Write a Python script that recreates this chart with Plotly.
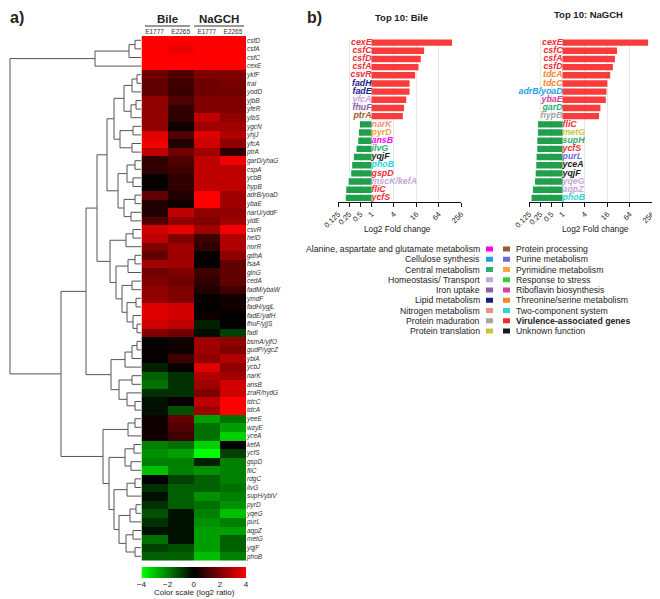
import plotly.graph_objects as go

# the page puts the figure 8 px in from the top-left corner
OFF = 8
W, H = 652, 591
FONT = "Arial, Liberation Sans, sans-serif"
INK = "#222222"

# ---- panel a: heatmap data (log2 ratio) ----
GENES = ["csfD", "csfA", "csfC", "cexE", "ykfF", "traI", "yodD", "yjbB", "yfeR", "ylbS",
         "ygcN", "yhjJ", "yfcA", "ptrA", "garD/yhaG", "cspA", "ycbB", "hypB", "adrB/yoaD", "ybaE",
         "narU/yddF", "yidE", "csvR", "helD", "norR", "gdhA", "fsaA", "glnG", "cedA", "fadM/ybaW",
         "ymdF", "fadH/ygjL", "fadE/yafH", "fhuF/yjjS", "fadI", "bsmA/yjfO", "gudP/ygcZ", "ybiA", "ycbJ", "narK",
         "ansB", "zraR/hydG", "tdcC", "tdcA", "yeeE", "wzyE", "yceA", "kefA", "ycfS", "gspD",
         "fliC", "rdgC", "ilvG", "supH/ybiV", "pyrD", "yqeG", "purL", "aqpZ", "metG", "yqjF", "phoB"]
SAMPLES = ["E1777", "E2265", "E1777", "E2265"]

BILE_E1777 = [4.0, 4.0, 4.0, 4.0,
              1.76, 1.5, 1.5, 2.26, 2.26, 2.26, 2.26, 3.5, 3.76, 3.0,
              0.75, 0.75, 0.1, 0.1, 1.5, 0.5, 0.5, 1.25,
              3.26, 3.0, 2.0, 1.5, 2.5, 1.76, 2.0, 2.26, 2.26, 3.5, 3.5, 3.26, 2.0,
              0.1, 0.1, 0.1, -0.5, -1.5, -1.76, -0.75, -0.25, -0.25,
              0.25, 0.25, 0.25, -2.0, -2.26, -2.0, -3.0, 0.0, -0.75, -0.25, -0.75, -1.25, -0.75,
              -0.25, -1.76, -1.0, -1.5]
BILE_E2265 = [4.0, 3.7, 4.0, 4.0,
              1.25, 1.0, 0.9, 1.25, 0.75, 0.75, 0.25, 1.25, 0.5, 1.76,
              1.25, 1.0, 0.75, 0.75, 0.5, 0.25, 3.0, 2.26,
              3.64, 2.0, 2.5, 2.5, 2.5, 2.0, 1.76, 2.0, 2.0, 3.3, 3.26, 3.0, 1.76,
              0.25, 0.25, 1.0, 0.1, -0.75, -0.75, -0.75, 0.1, -1.25,
              1.5, 1.25, 1.0, -1.76, -2.5, -2.0, -2.0, -1.0, -1.5, -1.5, -1.5, -0.25, -0.25,
              -0.25, -0.25, -1.25, -1.5]
NAGCH_E1777 = [4.0, 4.0, 4.0, 4.0,
               2.0, 1.76, 1.76, 2.0, 2.0, 3.0, 2.5, 3.5, 3.26, 2.5,
               3.0, 3.0, 3.0, 3.0, 4.0, 4.0, 2.26, 2.0,
               2.5, 1.0, 0.75, 0.1, 0.1, 1.0, 0.75, 0.5, 0.1, 0.0, 0.25, -0.5, -0.2,
               2.5, 2.5, 2.26, 3.5, 2.76, 2.5, 2.0, 3.0, 2.5,
               -2.5, -1.76, -1.76, -3.26, -4.0, -0.5, -2.26, -1.5, -1.5, -2.26, -1.76, -2.0, -2.26,
               -2.5, -2.5, -2.5, -3.0]
NAGCH_E2265 = [4.0, 4.0, 4.0, 4.0,
               2.0, 1.9, 1.8, 2.0, 2.0, 2.26, 2.5, 2.76, 2.26, 0.75,
               3.76, 3.0, 3.0, 3.0, 2.5, 2.5, 2.26, 2.5,
               3.76, 2.76, 2.76, 2.26, 1.5, 1.5, 1.5, 1.0, 0.25, 0.25, 0.0, 0.0, -1.0,
               2.26, 2.0, 2.76, 2.26, 2.5, 3.26, 3.26, 4.0, 4.0,
               -1.76, -2.5, -3.26, 0.0, -1.0, -2.0, -2.0, -2.0, -1.76, -2.0, -2.26, -3.0, -2.0,
               -2.5, -1.5, -1.5, -2.0]

# row clustering: [merge distance, left, right]; leaves are row indices
TREE = [131,
        [46, [12, [6, 0, 1], 2], 3],
        [80,
         [55,
          [44,
           [34,
            [27,
             [17, [9, [4, 4, 5], 6], [10, [5, 7, 8], 9]],
             [21, [8, 10, 11], [9, 12, 13]]],
            [23, [14, [6, 14, 15], [8, 16, 17]], [17, [6, 18, 19], [10, 20, 21]]]],
           [31,
            [15, [8, 22, 23], 24],
            [25, [13, [6, 25, 26], 27],
             [19, [9, 28, 29], [14, [5, 30, 31], [8, 32, [4, 33, 34]]]]]]],
          [30,
           [16, [9, [4, 35, 36], 37], 38],
           [22, [9, 39, 40], [14, 41, [6, 42, 43]]]]],
         [38,
          [13, [6, 44, 45], 46],
          [32,
           [16, [7, 47, 48], [10, 49, 50]],
           [27,
            [14, [6, 51, 52], 53],
            [22, [11, [5, 54, 55], 56], [15, [8, 57, 58], [6, 59, 60]]]]]]]]

SCALE_TICKS = [-4, -2, 0, 2, 4]

# ---- panel b: top-10 fold changes (log2) ----
BILE_GENES = ["cexE", "csfC", "csfD", "csfA", "csvR", "fadH", "fadE", "yfcA", "fhuF", "ptrA",
              "narK", "pyrD", "ansB", "ilvG", "yqjF", "phoB", "gspD", "mscK/kefA", "fliC", "ycfS"]
BILE_LOG2FC = [7.2, 4.7, 4.4, 4.2, 3.9, 3.4, 3.4, 3.1, 2.9, 2.8,
               -1.04, -1.13, -1.19, -1.34, -1.58, -1.73, -1.82, -2.05, -2.26, -2.3]
BILE_GROUP = ["Virulence-associated genes"] * 5 + [
    "Lipid metabolism", "Lipid metabolism", "Homeostasis/ Transport", "Iron uptake", "Protein processing",
    "Nitrogen metabolism", "Pyrimidine metabolism", "Alanine, aspartate and glutamate metabolism",
    "Central metabolism", "Unknown function", "Two-component system", "Virulence-associated genes",
    "Homeostasis/ Transport", "Virulence-associated genes", "Virulence-associated genes"]

NAGCH_GENES = ["cexE", "csfC", "csfA", "csfD", "tdcA", "tdcC", "adrB/yoaD", "ybaE", "garD", "hypB",
               "fliC", "metG", "supH", "ycfS", "purL", "yceA", "yqjF", "yqeG", "aqpZ", "phoB"]
NAGCH_LOG2FC = [7.65, 4.87, 4.68, 4.5, 4.26, 4.0, 3.93, 3.87, 3.39, 3.27,
                -2.2, -2.2, -2.26, -2.26, -2.32, -2.35, -2.4, -2.46, -2.65, -2.77]
NAGCH_GROUP = ["Virulence-associated genes"] * 4 + [
    "Threonine/serine metabolism", "Threonine/serine metabolism", "Cellulose synthesis",
    "Riboflavin biosynthesis", "Central metabolism", "Protein maduration",
    "Virulence-associated genes", "Protein translation", "Central metabolism", "Virulence-associated genes",
    "Purine metabolism", "Unknown function", "Unknown function", "Homeostasis/ Transport",
    "Homeostasis/ Transport", "Two-component system"]

FC_TICKS = [0.125, 0.25, 0.5, 1, 4, 16, 64, 256]
FC_TICK_LOG2 = [-3, -2, -1, 0, 2, 4, 6, 8]

LEFT_CATS = ["Alanine, aspartate and glutamate metabolism", "Cellulose synthesis", "Central metabolism",
             "Homeostasis/ Transport", "Iron uptake", "Lipid metabolism", "Nitrogen metabolism",
             "Protein maduration", "Protein translation"]
LEFT_COLORS = ["#FF00FF", "#1BA1E2", "#2EAD72", "#C3A6D8", "#8E5FA8", "#1B1B8A", "#F0907A",
               "#A5A5A5", "#C9C43F"]
RIGHT_CATS = ["Protein processing", "Purine metabolism", "Pyrimidine metabolism", "Response to stress",
              "Riboflavin biosynthesis", "Threonine/serine metabolism", "Two-component system",
              "Virulence-associated genes", "Unknown function"]
RIGHT_COLORS = ["#9A5B2E", "#6B6BD6", "#F7A23A", "#3CC83C", "#D4449B", "#F5862A", "#2ED3DA",
                "#EE2B36", "#1A1A1A"]
CAT_COLOR = dict(zip(LEFT_CATS + RIGHT_CATS, LEFT_COLORS + RIGHT_COLORS))

RED = "#F93B3B"
GREEN = "#20A04C"
RG_SCALE = [[0, "#00FF00"], [0.5, "#000000"], [1, "#FF0000"]]


def px_x(x):
    return max(0.0, (x - OFF) / W)


def px_y(y):
    return 1 - (y - OFF) / H


def tree_segments(node, xs, ys):
    if isinstance(node, int):
        return float(node), 0.0
    h, left, right = node
    yl, hl = tree_segments(left, xs, ys)
    yr, hr = tree_segments(right, xs, ys)
    xs += [hl, h, h, hr, None]
    ys += [yl, yl, yr, yr, None]
    return (yl + yr) / 2, h


fig = go.Figure()

dx, dy = [], []
tree_segments(TREE, dx, dy)
fig.add_trace(go.Scatter(x=dx, y=dy, mode="lines", line=dict(color="#555555", width=1),
                         xaxis="x", yaxis="y", hoverinfo="skip"))

z = [list(row) for row in zip(BILE_E1777, BILE_E2265, NAGCH_E1777, NAGCH_E2265)]
fig.add_trace(go.Heatmap(z=z, x=list(range(len(SAMPLES))), y=list(range(len(GENES))),
                         xaxis="x2", yaxis="y2", colorscale=RG_SCALE, zmin=-4, zmax=4, showscale=False))

# colour key drawn as a strip in its own axis
fig.add_trace(go.Heatmap(z=[SCALE_TICKS], x=SCALE_TICKS, y=[0], xaxis="x5", yaxis="y5",
                         colorscale=RG_SCALE, zmin=-4, zmax=4, zsmooth="best", showscale=False))

for xa, ya, genes, vals, groups in [("x3", "y3", BILE_GENES, BILE_LOG2FC, BILE_GROUP),
                                    ("x4", "y4", NAGCH_GENES, NAGCH_LOG2FC, NAGCH_GROUP)]:
    idx = list(range(len(genes)))
    fig.add_trace(go.Bar(x=vals, y=idx, orientation="h", width=0.78, xaxis=xa, yaxis=ya,
                         marker=dict(color=[RED if v > 0 else GREEN for v in vals], line=dict(width=0))))
    fig.add_trace(go.Scatter(
        x=[0] * len(genes), y=idx, mode="text", text=genes, xaxis=xa, yaxis=ya, cliponaxis=False,
        textposition=["middle left" if v > 0 else "middle right" for v in vals],
        textfont=dict(size=8.8, color=[CAT_COLOR[g] for g in groups], weight="bold", style="italic"),
    ))

row_dom = [px_y(36 + 8.6 * len(GENES)), px_y(36)]
bar_dom = [px_y(202), px_y(38.5)]
fc_axis = dict(range=[-3, 8], tickvals=FC_TICK_LOG2, ticktext=[f"{v:g}" for v in FC_TICKS],
               tickangle=-45, ticks="outside", ticklen=4, tickcolor="#111111", showline=True,
               linecolor="#111111", linewidth=1, showgrid=True, gridcolor="#E6E6E6", zeroline=False,
               tickfont=dict(size=7.5, color=INK))

fig.update_layout(
    width=W, height=H, margin=dict(l=0, r=0, t=0, b=0, autoexpand=False),
    paper_bgcolor="white", plot_bgcolor="white", showlegend=False,
    font=dict(family=FONT, color=INK),
    xaxis=dict(domain=[0, px_x(141)], range=[141 - OFF, 0], visible=False, anchor="y"),
    yaxis=dict(domain=row_dom, range=[len(GENES) - 0.5, -0.5], visible=False, anchor="x"),
    xaxis2=dict(domain=[px_x(141.5), px_x(246)], range=[-0.5, 3.5], side="top", anchor="y2",
                tickvals=list(range(len(SAMPLES))), ticktext=SAMPLES, ticks="", showgrid=False,
                zeroline=False, tickfont=dict(size=6.5, color="#333333")),
    yaxis2=dict(domain=row_dom, range=[len(GENES) - 0.5, -0.5], side="right", anchor="x2",
                tickvals=list(range(len(GENES))), ticktext=GENES, ticks="", showgrid=False,
                zeroline=False, tickfont=dict(size=6.5, color="#333333", style="italic")),
    xaxis3=dict(domain=[px_x(338), px_x(461)], anchor="y3", **fc_axis),
    yaxis3=dict(domain=bar_dom, range=[len(BILE_GENES) - 0.5, -0.5], visible=False, anchor="x3"),
    xaxis4=dict(domain=[px_x(529), px_x(652)], anchor="y4", **fc_axis),
    yaxis4=dict(domain=bar_dom, range=[len(NAGCH_GENES) - 0.5, -0.5], visible=False, anchor="x4"),
    xaxis5=dict(domain=[px_x(141.5), px_x(246)], range=[-4, 4], anchor="y5", tickvals=SCALE_TICKS,
                ticks="", showgrid=False, zeroline=False, showline=False,
                tickfont=dict(size=8, color=INK)),
    yaxis5=dict(domain=[px_y(578), px_y(567)], range=[-0.5, 0.5], visible=False, anchor="x5"),
)

ann = []
shapes = []


def text(x, y, s, size, anchor="center", bold=False, color=INK):
    ann.append(dict(x=px_x(x), y=px_y(y), xref="paper", yref="paper", text=s, showarrow=False,
                    xanchor=anchor, yanchor="middle",
                    font=dict(size=size, color=color, weight="bold" if bold else "normal")))


text(17, 17, "a)", 16, bold=True)
text(314, 17, "b)", 16, bold=True)
text(167, 19, "Bile", 11.5, bold=True)
text(219, 19, "NaGCH", 11.5, bold=True)
for x0, x1 in [(145, 190), (194, 244)]:
    shapes.append(dict(type="line", xref="paper", yref="paper", x0=px_x(x0), x1=px_x(x1),
                       y0=px_y(26), y1=px_y(26), line=dict(color="#333333", width=1)))
text(194, 592, "Color scale (log2 ratio)", 8)

text(402, 17, "Top 10: Bile", 9.5, bold=True)
text(588, 14, "Top 10: NaGCH", 9.5, bold=True)
text(397, 229, "Log2 Fold change", 8.3)
text(595, 229, "Log2 Fold change", 8.3)

for k, (cat, col) in enumerate(zip(LEFT_CATS, LEFT_COLORS)):
    y = 249 + 10.25 * k
    text(482, y, cat, 8.7, anchor="right")
    shapes.append(dict(type="rect", xref="paper", yref="paper", x0=px_x(486), x1=px_x(493),
                       y0=px_y(y + 2.5), y1=px_y(y - 2.5), fillcolor=col, line=dict(width=0)))
for k, (cat, col) in enumerate(zip(RIGHT_CATS, RIGHT_COLORS)):
    y = 249 + 10.25 * k
    text(514, y, cat, 8.7, anchor="left", bold=cat.startswith("Virulence"))
    shapes.append(dict(type="rect", xref="paper", yref="paper", x0=px_x(503), x1=px_x(510),
                       y0=px_y(y + 2.5), y1=px_y(y - 2.5), fillcolor=col, line=dict(width=0)))

fig.update_layout(annotations=ann, shapes=shapes)
fig.write_html("out.html")
